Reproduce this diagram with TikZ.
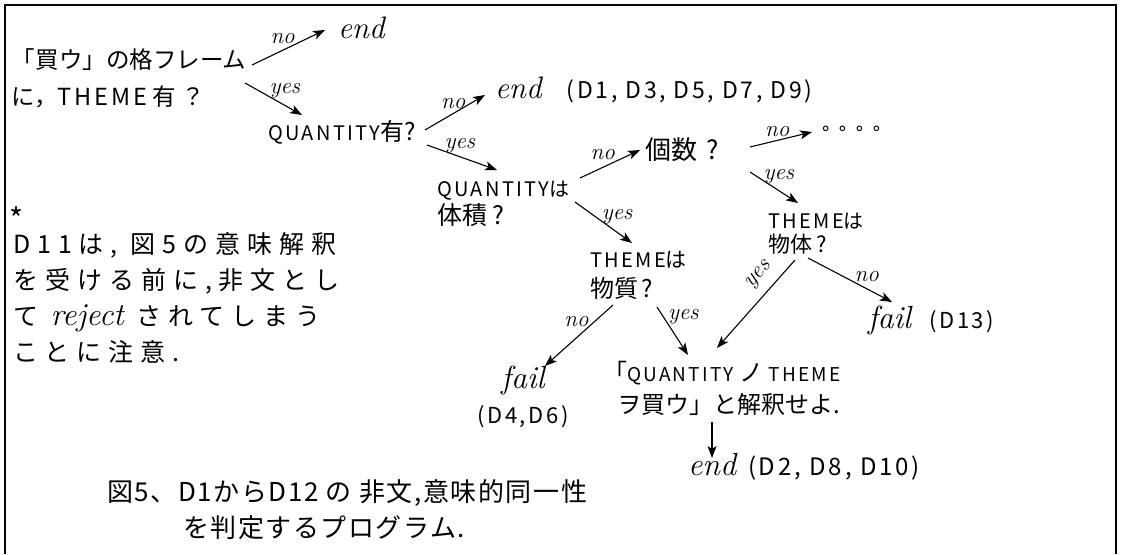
\documentclass[tikz,border=0pt]{standalone}
\usepackage{fontspec}
\usetikzlibrary{arrows.meta}
\newfontfamily\jpf{Noto Sans CJK JP}
\newfontfamily\capf{Noto Sans CJK JP}[LetterSpace=12]
\newfontfamily\symf{DejaVu Sans}
\newcommand\fs[2]{\fontsize{#1}{#2}\selectfont}
\tikzset{
  txt/.style={inner sep=0pt, outer sep=0pt},
  arr/.style={-{Stealth[length=12pt,width=9pt,inset=3pt]}, line width=1.1pt},
  lab/.style={inner sep=0pt, outer sep=0pt, font={\rmfamily\itshape\fs{23}{23}}},
}
\begin{document}
\begin{tikzpicture}[x=1pt,y=-1pt]
\useasboundingbox (0,0) rectangle (1123,554);
\draw[line width=1.6pt] (5,554) -- (5,5) -- (1116,5) -- (1116,554);

% nodes
\node[txt, anchor=west, align=left, font={\jpf\fs{23.5}{37}}] (n1) at (12,78)
  {「買ウ」の格フレーム\\に，{\capf THEME}\ 有\ ？};
\node[txt, anchor=west, font={\rmfamily\itshape\fs{31}{31}}] (e1) at (338,28) {end};
\node[txt, anchor=west, font={\capf\fs{20}{24}}] (n2) at (268,132) {QUANTITY{\jpf\fs{24}{24}有?}};
\node[txt, anchor=west] (eA) at (495,90)
  {{\rmfamily\itshape\fs{31}{31}end}\hspace{25pt}{\capf\fs{23}{23}(D1, D3, D5, D7, D9)}};
\node[txt, anchor=west, align=left, font={\jpf\fs{25}{28}}] (n3) at (437,204)
  {{\capf\fs{20}{28}QUANTITY}{\fs{20}{28}は}\\体積\ ?};
\node[txt, anchor=west, font={\jpf\fs{26}{26}}] (gs) at (645,150) {個数\hspace{10pt}?};
\node[txt, anchor=west, font={\symf\fs{18}{18}}] (dots) at (820,130) {∘ ∘ ∘ ∘};
\node[txt, anchor=west, align=left, font={\jpf\fs{24}{30}}] (n4) at (590,275)
  {{\capf\fs{20}{30}THEME}{\fs{21}{30}は}\\物質\,?};
\node[txt, anchor=west, align=left, font={\jpf\fs{22}{24}}] (n5) at (768,234)
  {{\capf\fs{20}{24}THEME}{\fs{20}{24}は}\\物体\ ?};
\node[txt, anchor=west] (f13) at (868,320)
  {{\rmfamily\itshape\fs{32}{32}fail}\hspace{18pt}{\capf\fs{22}{22}(D13)}};
\node[txt, font={\rmfamily\itshape\fs{32}{32}}] (f46) at (523,380) {fail};
\node[txt, font={\capf\fs{22}{22}}] (d46) at (523,417) {(D4,D6)};
\node[txt, anchor=west, align=left, font={\jpf\fs{24}{32}}] (n6) at (603,388)
  {「{\capf\fs{19}{32}QUANTITY}\ ノ\ {\capf\fs{19}{32}THEME}\\\hspace{14pt}ヲ買ウ」と解釈せよ.};
\node[txt, anchor=west] (e3) at (688,467)
  {{\rmfamily\itshape\fs{32}{32}end}\hspace{12pt}{\capf\fs{24}{24}(D2, D8, D10)}};
\node[txt, font={\jpf\fs{30}{30}}] (star) at (17,219) {*};
\node[txt, anchor=west, align=left, font={\jpf\fs{25}{36}\addfontfeature{LetterSpace=28}}] (nt) at (13,298)
  {D11は, 図5の意味解釈\\を受ける前に,非文とし\\て\ {\rmfamily\itshape\fs{32}{36}reject}\ されてしまう\\ことに注意.};
\node[txt, anchor=west, align=left, font={\jpf\fs{26}{36}\addfontfeature{LetterSpace=6}}] (cap) at (107,510)
  {図5、D1からD12 の 非文,意味的同一性\\\hspace{76pt}を判定するプログラム.};

% connectors
\draw[arr] ([shift={(240,-13)}]n1.west) -- node[lab,pos=.42,above=7pt]{no} ([shift={(-13,2)}]e1.west);
\draw[arr] ([shift={(233,5)}]n1.west) -- node[lab,pos=.7,above=7pt]{yes} ([shift={(34,-17)}]n2.west);
\draw[arr] ([shift={(157,-2)}]n2.west) -- node[lab,pos=.47,above=5pt]{no} ([shift={(-10,5)}]eA.west);
\draw[arr] ([shift={(159,13)}]n2.west) -- node[lab,pos=.47,above=4pt]{yes} ([shift={(60,-34)}]n3.west);
\draw[arr] ([shift={(143,-26)}]n3.west) -- node[lab,pos=.38,above=8pt]{no} ([shift={(-5,0)}]gs.west);
\draw[arr] ([shift={(138,-2)}]n3.west) -- node[lab,pos=.74,above=8pt]{yes} ([shift={(42,-32)}]n4.west);
\draw[arr] ([shift={(105,-3)}]gs.west) -- node[lab,pos=.44,above=4pt]{no} ([shift={(-8,2)}]dots.west);
\draw[arr] ([shift={(105,22)}]gs.west) -- node[lab,pos=.6,above=6pt]{yes} ([shift={(30,-31)}]n5.west);
\draw[arr] ([shift={(27,26)}]n5.west) -- node[lab,pos=.3,sloped,above=9pt]{yes} ([shift={(114,-40)}]n6.west);
\draw[arr] ([shift={(40,24)}]n5.west) -- node[lab,pos=.7,above=7pt]{no} ([shift={(24,-18)}]f13.west);
\draw[arr] ([shift={(23,30)}]n4.west) -- node[lab,pos=.27,left=6pt]{no} ([shift={(22,-14)}]f46.center);
\draw[arr] ([shift={(67,32)}]n4.west) -- node[lab,pos=.2,right=5pt]{yes} ([shift={(85,-33)}]n6.west);
\draw[arr] ([shift={(109,34)}]n6.west) -- ([shift={(24,-9)}]e3.west);
\end{tikzpicture}
\end{document}
